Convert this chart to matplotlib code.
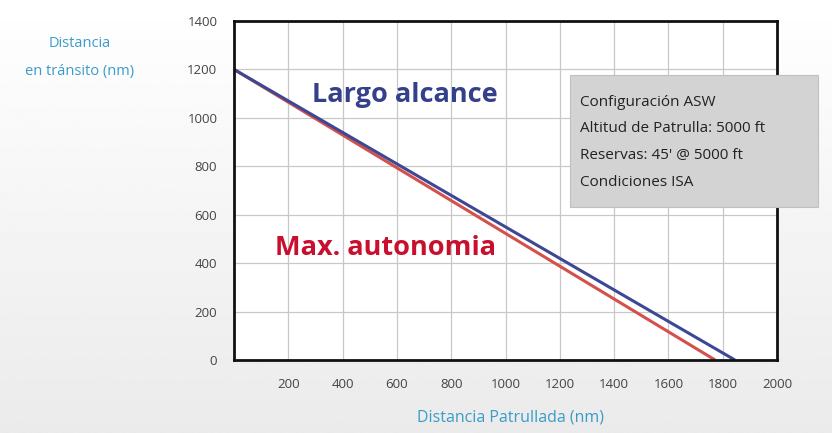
import numpy as np
import matplotlib.pyplot as plt

plt.rcParams['font.family'] = ['Open Sans', 'DejaVu Sans']

# datos
largo_x = [0, 1845]
largo_y = [1200, 0]
auto_x = [0, 1772]
auto_y = [1200, 0]
xticks = list(range(200, 2001, 200))
yticks = list(range(0, 1401, 200))
caja_texto = ['Configuración ASW',
              'Altitud de Patrulla: 5000 ft',
              "Reservas: 45' @ 5000 ft",
              'Condiciones ISA']

fig = plt.figure(figsize=(8.32, 4.33), dpi=100)

# fondo con degradado suave
bg = fig.add_axes([0, 0, 1, 1], zorder=-10)
grad = np.linspace(1.0, 0.92, 256).reshape(-1, 1)
bg.imshow(grad, aspect='auto', cmap='gray', vmin=0, vmax=1, extent=[0, 1, 0, 1])
bg.axis('off')

ax = fig.add_axes([0.2813, 0.1686, 0.6526, 0.7829])
ax.set_facecolor('white')
ax.plot(auto_x, auto_y, color='#d4504a', lw=2.2, solid_capstyle='butt')
ax.plot(largo_x, largo_y, color='#3c4894', lw=2.2, solid_capstyle='butt')

ax.set_xlim(0, 2000)
ax.set_ylim(0, 1400)
ax.set_xticks(xticks)
ax.set_yticks(yticks)
ax.grid(True, color='#c8c8c8', lw=0.9)
ax.set_axisbelow(True)
ax.tick_params(length=0, labelsize=9.5, labelcolor='#444444')
ax.tick_params(axis='x', pad=13)
ax.tick_params(axis='y', pad=12)
for s in ax.spines.values():
    s.set_linewidth(2)
    s.set_color('#111111')

ax.text(287, 1065, 'Largo alcance', fontsize=19.5, fontweight='bold', color='#34418a')
ax.text(151, 434, 'Max. autonomia', fontsize=19.5, fontweight='bold', color='#c8102e')

fig.text(0.0962, 0.90, 'Distancia', ha='center', va='center', fontsize=10.5, color='#3a9cc8')
fig.text(0.0962, 0.836, 'en tránsito (nm)', ha='center', va='center', fontsize=10.5, color='#3a9cc8')
fig.text(0.614, 0.035, 'Distancia Patrullada (nm)', ha='center', va='center', fontsize=11.5, color='#3a9cc8')

# caja de configuracion
box = plt.Rectangle((570 / 832, 1 - 207 / 433), 248 / 832, 132 / 433, transform=fig.transFigure,
                    facecolor='#d3d3d3', edgecolor='#c0c0c0', lw=0.8, zorder=5)
fig.add_artist(box)
ys = [103, 129, 156, 182]
for t, yy in zip(caja_texto, ys):
    fig.text(580 / 832, 1 - yy / 433, t, fontsize=11, color='#222222', va='center', zorder=6)

fig.savefig('out.png', dpi=100)
